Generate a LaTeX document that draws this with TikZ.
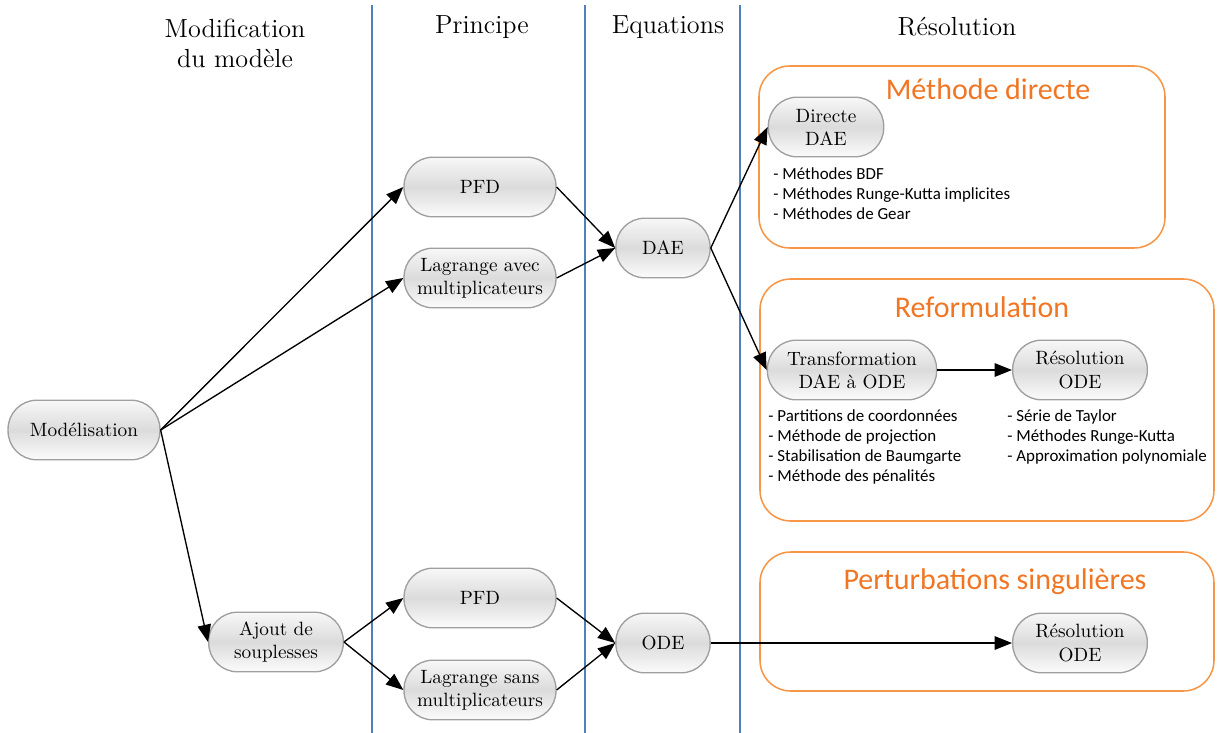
\documentclass[tikz,border=0pt]{standalone}
\usepackage{fontspec}
\newfontfamily\listfont{Carlito}
\usepackage{tikz}
\usetikzlibrary{arrows.meta}

\definecolor{frameorange}{RGB}{247,150,70}
\definecolor{titleorange}{RGB}{240,118,36}
\definecolor{colblue}{RGB}{79,129,189}

\tikzset{
    blob/.style={rectangle, rounded corners=15pt, draw=gray!75, line width=0.7pt,
        top color=gray!6, bottom color=gray!3, middle color=gray!28,
        align=center, minimum height=31pt, inner sep=2pt},
    flow/.style={-{Triangle[length=9pt,width=7pt]}, line width=0.7pt},
    frame/.style={draw=frameorange, line width=0.8pt, rounded corners=16pt},
    heading/.style={font=\fontsize{13.6}{15.6}\selectfont, align=center},
    boxtitle/.style={text=titleorange, font=\listfont\fontsize{15.6}{18}\selectfont},
    methods/.style={font=\listfont\fontsize{8.8}{10.4}\selectfont, align=left, anchor=north west, inner sep=0pt}
}

\begin{document}
\begin{tikzpicture}[x=0.52pt, y=-0.52pt]
        \useasboundingbox (0,0) rectangle (1219,733);
        % Draw column separators
        \foreach \x in {372,585,740} {
            \draw [colblue, line width=0.6pt] (\x,5) -- (\x,733);
        }
        % Draw headings
        \node [heading] (hmod) at (235,43) {Modification\\du modèle};
        \node [heading] (hpri) at (482,27) {Principe};
        \node [heading] (hequ) at (668,27) {Equations};
        \node [heading] (hres) at (957,27) {Résolution};
        % Draw frames
        \draw [frame] (759,66) rectangle (1165,248);
        \draw [frame] (760,279) rectangle (1214,521);
        \draw [frame] (760,552) rectangle (1214,691);
        \node [boxtitle] (tdir) at (988,89) {Méthode directe};
        \node [boxtitle] (tref) at (982,307) {Reformulation};
        \node [boxtitle] (tper) at (995,582) {Perturbations singulières};
        % Draw nodes
        \node [blob, minimum width=79pt] (model) at (84,430) {Modélisation};
        \node [blob, minimum width=79pt] (pfdA) at (480,187) {PFD};
        \node [blob, minimum width=79pt] (lagA) at (480,278) {Lagrange avec\\multiplicateurs};
        \node [blob, minimum width=49pt] (dae) at (663,248) {DAE};
        \node [blob, minimum width=60pt] (direct) at (826,127) {Directe\\DAE};
        \node [blob, minimum width=88pt] (transf) at (852,370) {Transformation\\DAE à ODE};
        \node [blob, minimum width=70pt] (resA) at (1080,370) {Résolution\\ODE};
        \node [blob, minimum width=70pt] (ajout) at (276,642) {Ajout de\\souplesses};
        \node [blob, minimum width=79pt] (pfdB) at (480,598) {PFD};
        \node [blob, minimum width=79pt] (lagB) at (480,690) {Lagrange sans\\multiplicateurs};
        \node [blob, minimum width=49pt] (ode) at (663,643) {ODE};
        \node [blob, minimum width=70pt] (resB) at (1080,643) {Résolution\\ODE};
        % Draw method lists
        \node [methods] (lstdir) at (773,167) {- Méthodes BDF\\- Méthodes Runge-Kutta implicites\\- Méthodes de Gear};
        \node [methods] (lsttr) at (768,409) {- Partitions de coordonnées\\- Méthode de projection\\- Stabilisation de Baumgarte\\- Méthode des pénalités};
        \node [methods] (lstres) at (1007,409) {- Série de Taylor\\- Méthodes Runge-Kutta\\- Approximation polynomiale};
        % Draw arrows
        \foreach \a/\b in {model/pfdA, model/lagA, model/ajout, pfdA/dae, lagA/dae,
                dae/direct, dae/transf, ajout/pfdB, ajout/lagB, pfdB/ode, lagB/ode} {
            \draw [flow] (\a.east) -- (\b.west);
        }
        \draw [flow] (transf) -- (resA);
        \draw [flow] (ode) -- (resB);
\end{tikzpicture}
\end{document}
